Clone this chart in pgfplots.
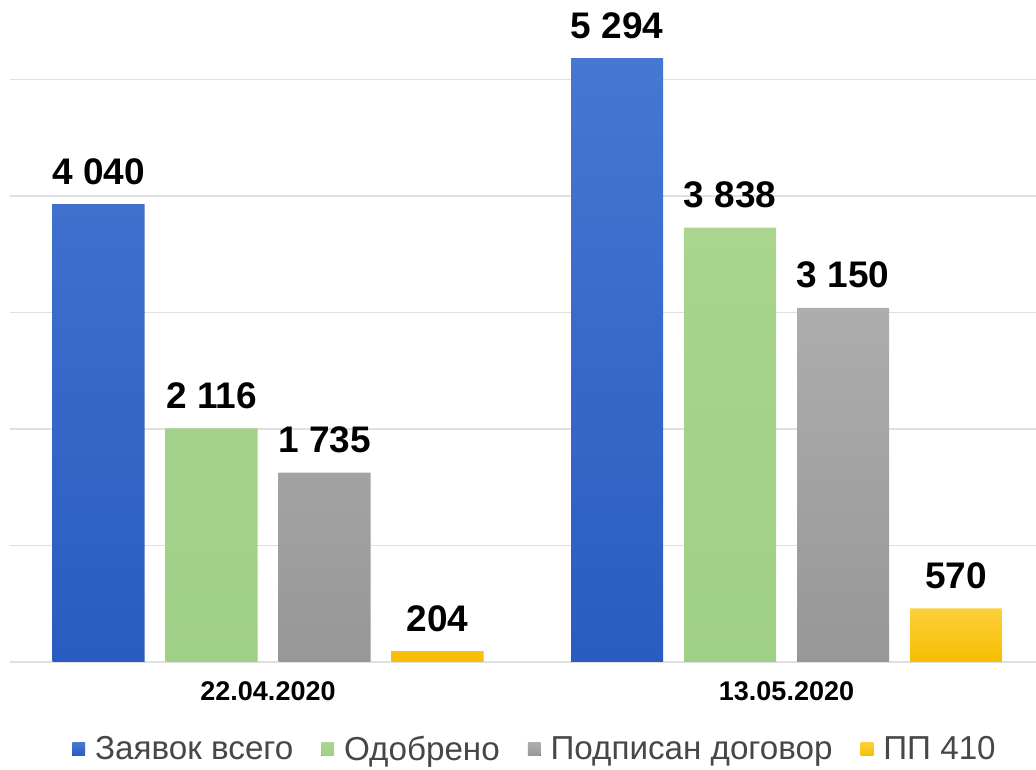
\documentclass[border=0pt]{standalone}
\usepackage{fontspec}
\setmainfont{Liberation Sans}
\usepackage{pgfplots}
\pgfplotsset{compat=1.18}

\definecolor{blueTop}{HTML}{4677D3}
\definecolor{blueBot}{HTML}{2A5BC0}
\definecolor{greenTop}{HTML}{A9D58F}
\definecolor{greenBot}{HTML}{A0CF86}
\definecolor{grayTop}{HTML}{ADADAD}
\definecolor{grayBot}{HTML}{979797}
\definecolor{yelTop}{HTML}{FCD03A}
\definecolor{yelBot}{HTML}{F6BE00}

\begin{document}
\begin{tikzpicture}
\begin{axis}[
    scale only axis,
    width=513pt, height=331pt,
    xmin=-0.4976, xmax=1.4812,
    ymin=110, ymax=5792,
    ybar=10.5pt, bar width=46pt,
    axis line style={draw=none},
    major tick length=0pt,
    ytick={110,1110,2110,3110,4110,5110},
    yticklabels={},
    ymajorgrids,
    grid style={line width=0.8pt, color=black!12},
    xtick={0,1},
    xticklabels={22.04.2020,13.05.2020},
    xticklabel style={font=\bfseries\fontsize{13.5}{16}\selectfont, anchor=base, yshift=-19.5pt},
    nodes near coords={\pgfmathprintnumber[assume math mode=true,1000 sep={\ }]{\pgfplotspointmeta}},
    nodes near coords style={font=\bfseries\fontsize{18.5}{22}\selectfont, anchor=base, yshift=10pt, inner sep=0pt, text=black},
    legend columns=4,
    legend style={at={(0.5127,-0.1320)}, anchor=center, draw=none,
        font=\fontsize{16.6}{19}\selectfont, text=black!72,
        /tikz/every odd column/.append style={column sep=3pt},
        /tikz/every even column/.append style={column sep=12pt}},
    legend image code/.code={\fill[#1] (0pt,-3.2pt) rectangle (6.4pt,3.2pt);},
]
\addplot[draw=none, top color=blueTop, bottom color=blueBot]
    coordinates {(0,4040) (1,5294)};
\addplot[draw=none, top color=greenTop, bottom color=greenBot]
    coordinates {(0,2116) (1,3838)};
\addplot[draw=none, top color=grayTop, bottom color=grayBot]
    coordinates {(0,1735) (1,3150)};
\addplot[draw=none, top color=yelTop, bottom color=yelBot]
    coordinates {(0,204) (1,570)};
\legend{Заявок всего, Одобрено, Подписан договор, ПП 410}
\end{axis}
\pgfresetboundingbox
\path[use as bounding box] (-5pt,-53.5pt) rectangle (513pt,331pt);
\end{tikzpicture}
\end{document}
